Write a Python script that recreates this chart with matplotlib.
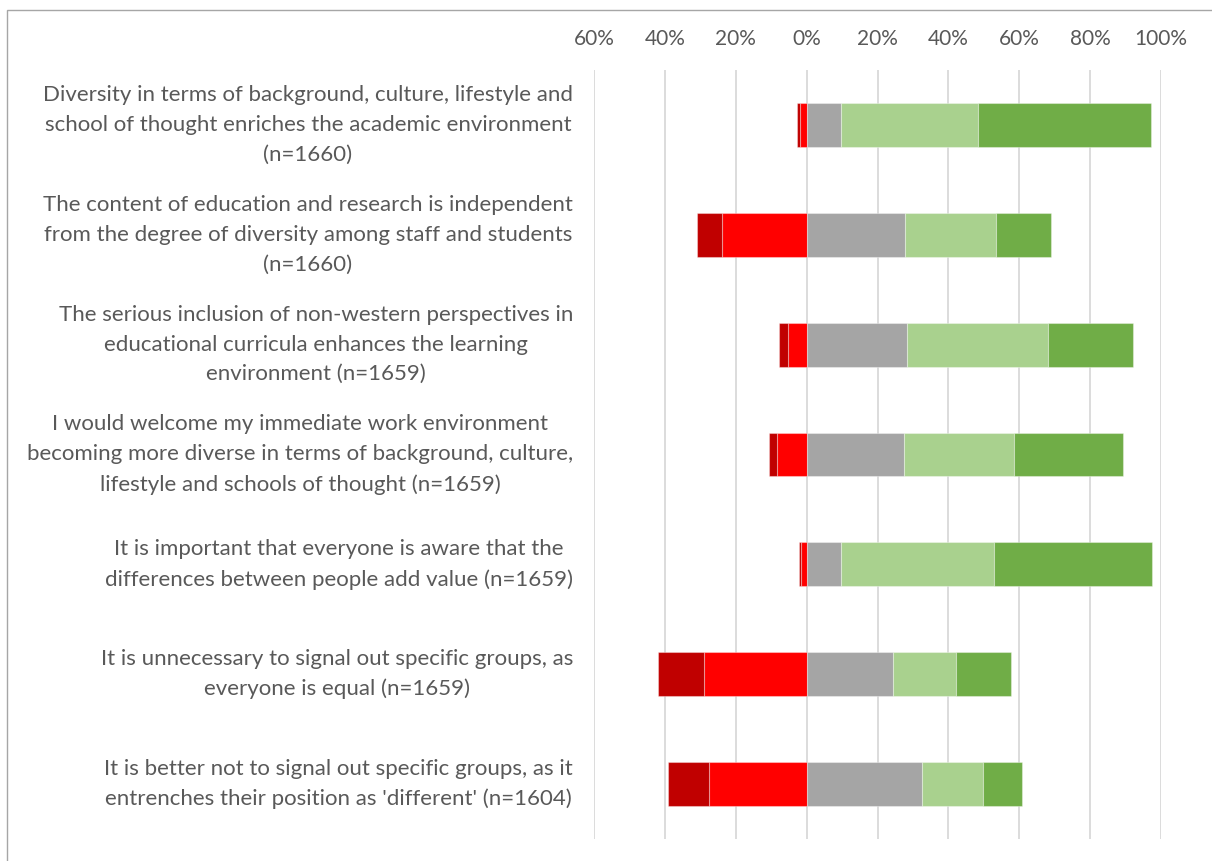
import matplotlib
matplotlib.use("Agg")
import matplotlib.pyplot as plt
from matplotlib.patches import Rectangle
import numpy as np

statements = [
    "Diversity in terms of background, culture, lifestyle and\nschool of thought enriches the academic environment\n(n=1660)",
    "The content of education and research is independent\nfrom the degree of diversity among staff and students\n(n=1660)",
    "The serious inclusion of non-western perspectives in\neducational curricula enhances the learning\nenvironment (n=1659)",
    "I would welcome my immediate work environment\nbecoming more diverse in terms of background, culture,\nlifestyle and schools of thought (n=1659)",
    "It is important that everyone is aware that the\ndifferences between people add value (n=1659)",
    "It is unnecessary to signal out specific groups, as\neveryone is equal (n=1659)",
    "It is better not to signal out specific groups, as it\nentrenches their position as 'different' (n=1604)",
]

# Response shares in percent
strongly_disagree = [0.9, 7.3, 2.5, 2.3, 0.6, 13.1, 11.5]
disagree          = [1.9, 23.8, 5.2, 8.3, 1.6, 29.0, 27.6]
neutral           = [9.7, 27.8, 28.3, 27.6, 9.7, 24.3, 32.6]
agree             = [38.7, 25.7, 39.8, 31.0, 43.2, 17.8, 17.2]
strongly_agree    = [48.9, 15.4, 24.2, 30.7, 44.7, 15.7, 11.0]

tick_values = [-60, -40, -20, 0, 20, 40, 60, 80, 100]
tick_labels = ["60%", "40%", "20%", "0%", "20%", "40%", "60%", "80%", "100%"]

colors = {
    "sd": "#C00000",
    "d": "#FF0000",
    "n": "#A5A5A5",
    "a": "#A9D18E",
    "sa": "#70AD47",
}
text_color = "#595959"
font = ["Lato", "DejaVu Sans"]

W, H = 1212, 861
fig = plt.figure(figsize=(W / 100, H / 100), dpi=100)
fig.patch.set_facecolor("white")

# chart frame (left and top edges visible)
fig.patches.append(Rectangle((6.5 / W, -0.1), 1.2, 1 - 9.5 / H + 0.1,
                             transform=fig.transFigure, fill=False,
                             edgecolor="#A6A6A6", linewidth=1.0))

left, right = 594.3 / W, 1160.7 / W
top, bottom = 1 - 70 / H, 1 - 839 / H
ax = fig.add_axes([left, bottom, right - left, top - bottom])

y = np.arange(len(statements))
h = 0.4
sd = np.array(strongly_disagree)
d = np.array(disagree)
n = np.array(neutral)
a = np.array(agree)
sa = np.array(strongly_agree)

kw = dict(height=h, edgecolor=(1, 1, 1, 0.35), linewidth=0.8, zorder=3)
ax.barh(y, -d, left=0, color=colors["d"], **kw)
ax.barh(y, -sd, left=-d, color=colors["sd"], **kw)
ax.barh(y, n, left=0, color=colors["n"], **kw)
ax.barh(y, a, left=n, color=colors["a"], **kw)
ax.barh(y, sa, left=n + a, color=colors["sa"], **kw)

ax.set_xlim(-60, 100)
ax.set_ylim(len(statements) - 0.5, -0.5)

ax.set_xticks(tick_values)
ax.set_xticklabels(tick_labels, fontsize=15, color=text_color, family=font)
ax.xaxis.tick_top()
ax.tick_params(axis="x", length=0, pad=15)
ax.set_yticks([])
ax.grid(axis="x", color="#D9D9D9", linewidth=1.3, zorder=0)
for s in ax.spines.values():
    s.set_visible(False)

label_x = 573 / W
for i, txt in enumerate(statements):
    yc = ax.transData.transform((0, i))[1]
    yf = fig.transFigure.inverted().transform((0, yc))[1]
    fig.text(label_x, yf, txt, ha="right", va="center", multialignment="center",
             fontsize=16, color=text_color, family=font, linespacing=1.6)

fig.savefig("out.png", dpi=100, facecolor="white")
